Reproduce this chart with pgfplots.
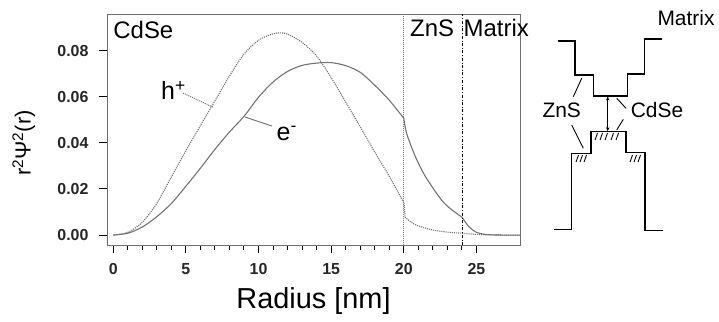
\documentclass[border=0pt]{standalone}
\usepackage{pgfplots}
\pgfplotsset{compat=1.18}
\usepackage{fontspec}
\setmainfont{Liberation Sans}
\usetikzlibrary{arrows.meta}
\definecolor{curvegray}{RGB}{115,115,115}
\definecolor{axisgray}{RGB}{110,110,110}

\pgfplotstableread{
x y
0 0
1 0.0012
2 0.0055
3 0.0138
4 0.0252
5 0.0366
6 0.0475
7 0.0582
8 0.0690
9 0.0785
10 0.0845
11 0.0873
11.5 0.0877
12 0.0872
13 0.0836
14 0.0777
15 0.0683
16 0.0577
17 0.0470
18 0.0360
19 0.0255
19.9 0.0152
20.02 0.0140
}\holeA
\pgfplotstableread{
x y
20.02 0.0140
20.08 0.0078
}\holeB
\pgfplotstableread{
x y
20.08 0.0078
20.5 0.0056
21 0.0040
22 0.0022
23 0.0013
24 0.0008
25 0.0003
26 0.0001
27 0
28 0
}\holeC

\pgfplotstableread{
x y
0 0
1 0.0008
2 0.0035
3 0.0080
4 0.0137
5 0.0212
6 0.0290
7 0.0372
8 0.0447
9 0.0515
10 0.0598
11 0.0664
12 0.0710
13 0.0736
14 0.0746
15 0.0748
16 0.0735
17 0.0706
18 0.0650
19 0.0585
20 0.0507
}\electronA
\pgfplotstableread{
x y
20 0.0507
20.2 0.0440
20.8 0.0340
21.5 0.0253
22.6 0.0152
23.3 0.0110
24 0.0078
}\electronB
\pgfplotstableread{
x y
24 0.0078
24.5 0.0035
25 0.0012
25.5 0.0004
26 0.0001
27 0
28 0
}\electronC

\begin{document}
\begin{tikzpicture}
\useasboundingbox (0,0) rectangle (719bp,-322bp);

\begin{axis}[
  at={(107bp,-245bp)}, anchor=south west,
  scale only axis, width=413bp, height=231bp,
  xmin=-0.43, xmax=28, ymin=-0.0043, ymax=0.0959,
  axis line style={axisgray, line width=0.8bp},
  xtick={0,5,10,15,20,25}, minor x tick num=4,
  ytick={0,0.02,0.04,0.06,0.08},
  xtick pos=bottom, ytick pos=left,
  tick align=outside,
  major tick length=8bp, minor tick length=4.5bp,
  every tick/.style={black, line width=1bp},
  scaled y ticks=false,
  yticklabel style={/pgf/number format/fixed, /pgf/number format/fixed zerofill, /pgf/number format/precision=2, xshift=-7bp},
  xticklabel style={yshift=-7bp},
  /pgf/number format/assume math mode=true,
  ticklabel style={font=\fontsize{16}{16}\selectfont\bfseries, text=black!85},
  clip=false,
  xlabel={Radius [nm]},
  xlabel style={font=\fontsize{29}{29}\selectfont, at={(axis description cs:0.5,-0.273)}, anchor=base},
  ylabel={r\textsuperscript{2}Ψ\textsuperscript{2}(r)},
  ylabel style={font=\fontsize{22}{22}\selectfont, at={(axis description cs:-0.185,0.4416)}, anchor=base, rotate=0},
]
\addplot[curvegray, densely dotted, line width=1.1bp, smooth, tension=0.5] table[x=x,y=y] {\holeA};
\addplot[curvegray, densely dotted, line width=1.1bp] table[x=x,y=y] {\holeB};
\addplot[curvegray, densely dotted, line width=1.1bp, smooth, tension=0.5] table[x=x,y=y] {\holeC};
\addplot[curvegray, line width=1.1bp, smooth, tension=0.5] table[x=x,y=y] {\electronA};
\addplot[curvegray, line width=1.1bp, smooth, tension=0.5] table[x=x,y=y] {\electronB};
\addplot[curvegray, line width=1.1bp, smooth, tension=0.5] table[x=x,y=y] {\electronC};
\addplot[gray, densely dotted, line width=1bp] coordinates {(20,-0.0043) (20,0.0959)};
\addplot[black, dash dot, line width=1bp] coordinates {(24.05,-0.0043) (24.05,0.0959)};
\addplot[curvegray, densely dotted, line width=1bp] coordinates {(4.8,0.0616) (6.87,0.0555)};
\addplot[curvegray, line width=1bp] coordinates {(9.07,0.0512) (10.93,0.0473)};
\node[anchor=base west, inner sep=0pt, font=\fontsize{25}{25}\selectfont] at (axis cs:3.29,0.0586) {h\textsuperscript{+}};
\node[anchor=base west, inner sep=0pt, font=\fontsize{25}{25}\selectfont] at (axis cs:11.24,0.0412) {e\textsuperscript{-}};
\node[anchor=base west, inner sep=0pt, font=\fontsize{24}{24}\selectfont] at (axis cs:0,0.0853) {CdSe};
\node[anchor=base west, inner sep=0pt, font=\fontsize{24}{24}\selectfont] at (axis cs:20.43,0.0860) {ZnS};
\node[anchor=base west, inner sep=0pt, font=\fontsize{24}{24}\selectfont] at (axis cs:24.11,0.0860) {Matrix};
\end{axis}

\begin{axis}[
  at={(0bp,0bp)}, anchor=north west,
  scale only axis, width=719bp, height=322bp,
  xmin=0, xmax=719, ymin=0, ymax=322, y dir=reverse,
  hide axis, clip=false,
]
\addplot[black, line width=1.3bp] coordinates {(557.7,41) (575,41) (575,75) (593.3,75) (593.3,96) (627.3,96) (627.3,74) (644.3,74) (644.3,39) (661.7,39)};
\addplot[black, line width=1.3bp] coordinates {(554.3,229.3) (571.7,229.3) (571.7,153.3) (591,153.3) (591,131.7) (626,131.7) (626,152.7) (645,152.7) (645,230.7) (662.7,230.7)};
\addplot[black, line width=1bp, {Stealth[length=4bp,width=3.5bp]}-{Stealth[length=4bp,width=3.5bp]}] coordinates {(607.7,96.5) (607.7,131.2)};
\addplot[black, line width=0.9bp, unbounded coords=jump] coordinates {
 (576,162) (578.5,155) (577,nan)
 (580,162) (582.5,155) (581,nan)
 (584,162) (586.5,155) (585,nan)
 (595,140) (597.5,133) (596,nan)
 (600,140) (602.5,133) (601,nan)
 (605,140) (607.5,133) (606,nan)
 (611,140) (613.5,133) (612,nan)
 (616,140) (618.5,133) (617,nan)
 (630,162) (632.5,155) (631,nan)
 (634,162) (636.5,155) (635,nan)
 (638,162) (640.5,155) (639,nan)
};
\addplot[black, line width=0.9bp] coordinates {(573.3,96.7) (581.7,78.3)};
\addplot[black, line width=0.9bp] coordinates {(571.7,125) (583.3,148.3)};
\addplot[black, line width=0.9bp] coordinates {(626,108.3) (616.7,98.3)};
\addplot[black, line width=0.9bp] coordinates {(623.3,119.3) (616.7,130)};
\node[inner sep=0pt, font=\fontsize{21}{21}\selectfont] at (axis cs:561.7,110) {ZnS};
\node[inner sep=0pt, font=\fontsize{21}{21}\selectfont] at (axis cs:657,110) {CdSe};
\node[inner sep=0pt, font=\fontsize{21}{21}\selectfont] at (axis cs:686,18.5) {Matrix};
\end{axis}
\end{tikzpicture}
\end{document}
